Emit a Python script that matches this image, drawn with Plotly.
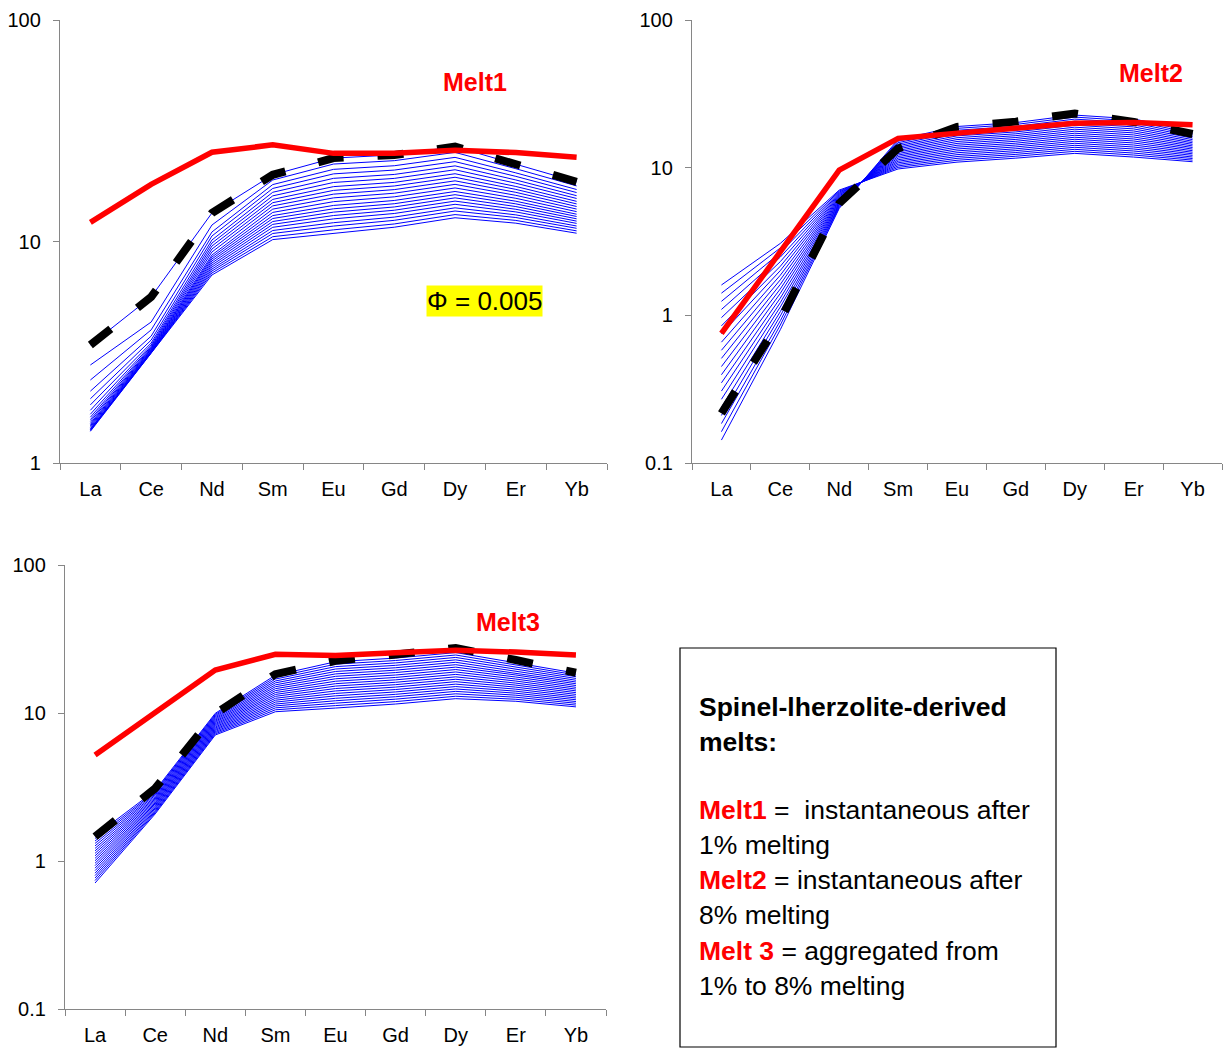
import plotly.graph_objects as go

W, H = 1223, 1048

elements = ["La", "Ce", "Nd", "Sm", "Eu", "Gd", "Dy", "Er", "Yb"]

# ---- Panel 1: model melt curves (Phi = 0.005), one value per curve for each element
p1_La = [3.41, 2.77, 2.37, 2.11, 1.95, 1.83, 1.73, 1.66, 1.61, 1.57, 1.54, 1.51, 1.49, 1.47, 1.45, 1.43, 1.42, 1.41, 1.40, 1.39]
p1_Ce = [5.62, 4.33, 3.99, 3.74, 3.59, 3.48, 3.41, 3.36, 3.32, 3.29, 3.26, 3.24, 3.21, 3.19, 3.18, 3.16, 3.15, 3.15, 3.14, 3.13]
p1_Nd = [13.45, 11.87, 11.04, 10.59, 10.16, 9.84, 9.54, 9.25, 8.97, 8.69, 8.51, 8.34, 8.17, 8.00, 7.83, 7.67, 7.51, 7.36, 7.21, 7.06]
p1_Sm = [20.0, 18.95, 18.07, 17.36, 16.68, 16.07, 15.49, 14.97, 14.48, 14.00, 13.53, 13.09, 12.70, 12.31, 11.95, 11.59, 11.21, 10.87, 10.51, 10.20]
p1_Eu = [23.8, 22.37, 21.17, 20.20, 19.28, 18.47, 17.69, 17.01, 16.36, 15.74, 15.13, 14.55, 14.05, 13.57, 13.10, 12.65, 12.16, 11.74, 11.29, 10.90]
p1_Gd = [24.6, 23.17, 21.98, 21.01, 20.08, 19.27, 18.49, 17.81, 17.15, 16.52, 15.91, 15.32, 14.81, 14.32, 13.84, 13.38, 12.89, 12.46, 12.00, 11.60]
p1_Dy = [26.8, 25.25, 23.98, 22.94, 21.95, 21.08, 20.23, 19.50, 18.79, 18.11, 17.45, 16.82, 16.27, 15.74, 15.22, 14.72, 14.19, 13.73, 13.23, 12.80]
p1_Er = [22.4, 21.31, 20.41, 19.68, 18.96, 18.33, 17.72, 17.19, 16.67, 16.16, 15.67, 15.20, 14.79, 14.38, 13.98, 13.60, 13.19, 12.83, 12.45, 12.10]
p1_Yb = [18.6, 17.82, 17.17, 16.63, 16.10, 15.64, 15.18, 14.78, 14.39, 14.01, 13.64, 13.28, 12.97, 12.66, 12.36, 12.07, 11.75, 11.47, 11.17, 10.90]
p1_ref = [3.41, 5.62, 13.45, 20.0, 23.8, 24.6, 26.8, 22.4, 18.6]
melt1 = [12.2, 18.1, 25.3, 27.3, 25.0, 25.0, 25.8, 25.2, 24.0]

# ---- Panel 2
p2_La = [1.605, 1.413, 1.244, 1.096, 0.965, 0.849, 0.748, 0.658, 0.580, 0.511, 0.450, 0.396, 0.349, 0.307, 0.270, 0.238, 0.210, 0.185, 0.163, 0.143]
p2_Ce = [3.07, 2.86, 2.66, 2.48, 2.31, 2.15, 2.01, 1.87, 1.74, 1.62, 1.51, 1.41, 1.31, 1.22, 1.14, 1.06, 0.99, 0.92, 0.86, 0.80]
p2_Nd = [7.05, 6.94, 6.84, 6.74, 6.64, 6.54, 6.44, 6.34, 6.25, 6.16, 6.06, 5.97, 5.89, 5.80, 5.71, 5.63, 5.54, 5.46, 5.38, 5.30]
p2_Sm = [9.80, 10.04, 10.28, 10.53, 10.79, 11.05, 11.32, 11.60, 11.89, 12.18, 12.47, 12.78, 13.09, 13.41, 13.74, 14.07, 14.42, 14.77, 15.13, 15.50]
p2_Eu = [10.90, 11.22, 11.56, 11.90, 12.25, 12.62, 12.99, 13.38, 13.77, 14.18, 14.60, 15.04, 15.49, 15.95, 16.42, 16.90, 17.41, 17.92, 18.46, 19.00]
p2_Gd = [11.60, 11.95, 12.30, 12.66, 13.04, 13.42, 13.82, 14.23, 14.65, 15.09, 15.54, 16.00, 16.47, 16.96, 17.46, 17.98, 18.51, 19.05, 19.62, 20.20]
p2_Dy = [12.50, 12.90, 13.31, 13.74, 14.17, 14.63, 15.09, 15.57, 16.07, 16.58, 17.11, 17.66, 18.22, 18.80, 19.40, 20.02, 20.66, 21.32, 22.00, 22.70]
p2_Er = [11.80, 12.18, 12.56, 12.97, 13.38, 13.80, 14.24, 14.70, 15.16, 15.64, 16.14, 16.66, 17.19, 17.73, 18.30, 18.88, 19.48, 20.10, 20.74, 21.40]
p2_Yb = [10.97, 11.25, 11.53, 11.81, 12.11, 12.41, 12.72, 13.03, 13.36, 13.69, 14.03, 14.38, 14.74, 15.10, 15.48, 15.86, 16.26, 16.66, 17.07, 17.50]
p2_ref = [0.217, 0.93, 5.73, 13.5, 18.9, 20.5, 23.3, 20.4, 16.9]
melt2 = [0.755, 2.69, 9.64, 15.8, 17.2, 18.5, 20.0, 20.2, 19.5]

# ---- Panel 3
p3_La = [1.476, 1.420, 1.366, 1.315, 1.265, 1.217, 1.171, 1.127, 1.084, 1.043, 1.004, 0.966, 0.930, 0.895, 0.861, 0.828, 0.797, 0.767, 0.738, 0.710]
p3_Ce = [3.00, 2.94, 2.89, 2.83, 2.78, 2.72, 2.67, 2.62, 2.57, 2.52, 2.47, 2.43, 2.38, 2.34, 2.29, 2.25, 2.20, 2.16, 2.12, 2.08]
p3_Nd = [9.95, 9.78, 9.61, 9.44, 9.27, 9.11, 8.95, 8.79, 8.64, 8.48, 8.33, 8.19, 8.04, 7.90, 7.76, 7.63, 7.49, 7.36, 7.23, 7.10]
p3_Sm = [18.00, 17.47, 16.96, 16.46, 15.98, 15.50, 15.05, 14.60, 14.17, 13.75, 13.35, 12.96, 12.57, 12.20, 11.84, 11.49, 11.16, 10.83, 10.51, 10.20]
p3_Eu = [22.20, 21.38, 20.58, 19.82, 19.08, 18.37, 17.69, 17.03, 16.39, 15.78, 15.20, 14.63, 14.09, 13.56, 13.06, 12.57, 12.10, 11.65, 11.22, 10.80]
p3_Gd = [23.50, 22.63, 21.80, 20.99, 20.22, 19.47, 18.76, 18.06, 17.39, 16.75, 16.13, 15.54, 14.97, 14.41, 13.88, 13.37, 12.88, 12.40, 11.94, 11.50]
p3_Dy = [25.60, 24.65, 23.74, 22.86, 22.01, 21.20, 20.41, 19.66, 18.93, 18.23, 17.55, 16.90, 16.28, 15.67, 15.09, 14.53, 14.00, 13.48, 12.98, 12.50]
p3_Er = [21.80, 21.13, 20.47, 19.84, 19.23, 18.64, 18.06, 17.50, 16.96, 16.44, 15.92, 15.43, 14.95, 14.49, 14.04, 13.61, 13.19, 12.78, 12.38, 12.00]
p3_Yb = [18.60, 18.09, 17.60, 17.12, 16.65, 16.20, 15.76, 15.33, 14.91, 14.50, 14.11, 13.72, 13.35, 12.98, 12.63, 12.29, 11.95, 11.63, 11.31, 11.00]
p3_ref = [1.46, 3.10, 9.9, 18.3, 22.5, 25.0, 27.5, 22.8, 18.7]
melt3 = [5.2, 10.0, 19.5, 24.9, 24.5, 25.5, 26.5, 25.8, 24.7]

FONT = "Arial, 'Liberation Sans', sans-serif"
AXIS_GREY = "#868686"


def px(x):
    return x / W


def py(y):
    return 1 - y / H


panels = [
    ("x", "y", [p1_La, p1_Ce, p1_Nd, p1_Sm, p1_Eu, p1_Gd, p1_Dy, p1_Er, p1_Yb], p1_ref, melt1),
    ("x2", "y2", [p2_La, p2_Ce, p2_Nd, p2_Sm, p2_Eu, p2_Gd, p2_Dy, p2_Er, p2_Yb], p2_ref, melt2),
    ("x3", "y3", [p3_La, p3_Ce, p3_Nd, p3_Sm, p3_Eu, p3_Gd, p3_Dy, p3_Er, p3_Yb], p3_ref, melt3),
]

fig = go.Figure()
for xa, ya, columns, ref, melt in panels:
    # blue model curves: transpose element columns into one curve per model step
    for curve in zip(*columns):
        fig.add_trace(go.Scatter(x=elements, y=list(curve), xaxis=xa, yaxis=ya, mode="lines",
                                 line=dict(color="#0000FF", width=1), hoverinfo="skip"))
    fig.add_trace(go.Scatter(x=elements, y=ref, xaxis=xa, yaxis=ya, mode="lines",
                             line=dict(color="#000000", width=8, dash="26px,34px")))
    fig.add_trace(go.Scatter(x=elements, y=melt, xaxis=xa, yaxis=ya, mode="lines",
                             line=dict(color="#FF0000", width=5.5)))


def xaxis_style(domain, anchor):
    return dict(domain=domain, anchor=anchor, type="category", categoryarray=elements,
                range=[-0.5, 8.5], tickson="boundaries", ticks="outside", ticklen=6,
                tickcolor=AXIS_GREY, tickwidth=1.3, showline=True, linecolor=AXIS_GREY,
                linewidth=1.3, showgrid=False, zeroline=False, ticklabelstandoff=8,
                automargin=False, tickfont=dict(family=FONT, size=20, color="#000000"))


def yaxis_style(domain, anchor, lo, vals):
    return dict(domain=domain, anchor=anchor, type="log", range=[lo, 2],
                tickvals=vals, ticktext=[str(v) for v in vals], ticks="outside",
                ticklen=6, tickcolor=AXIS_GREY, tickwidth=1.3, showline=True,
                linecolor=AXIS_GREY, linewidth=1.3, showgrid=False, zeroline=False,
                ticklabelstandoff=8, automargin=False,
                tickfont=dict(family=FONT, size=20, color="#000000"))


fig.update_layout(
    width=W, height=H, margin=dict(l=0, r=0, t=0, b=0, pad=0, autoexpand=False),
    paper_bgcolor="white", plot_bgcolor="white", showlegend=False,
    font=dict(family=FONT, color="#000000"),
    xaxis=xaxis_style([px(60), px(607)], "y"),
    yaxis=yaxis_style([py(463), py(20)], "x", 0, [1, 10, 100]),
    xaxis2=xaxis_style([px(692), px(1222)], "y2"),
    yaxis2=yaxis_style([py(463), py(20)], "x2", -1, [0.1, 1, 10, 100]),
    xaxis3=xaxis_style([px(65), px(606)], "y3"),
    yaxis3=yaxis_style([py(1009), py(565)], "x3", -1, [0.1, 1, 10, 100]),
)

annotations = [
    dict(x=px(475), y=py(82), text="<b>Melt1</b>", font=dict(size=25, color="#FF0000")),
    dict(x=px(1151), y=py(73), text="<b>Melt2</b>", font=dict(size=25, color="#FF0000")),
    dict(x=px(508), y=py(622), text="<b>Melt3</b>", font=dict(size=25, color="#FF0000")),
    dict(x=px(484), y=py(301), text="Φ = 0.005", font=dict(size=26, color="#000000"),
         bgcolor="#FFFF00", borderpad=0),
]
for a in annotations:
    a.update(xref="paper", yref="paper", showarrow=False, xanchor="center", yanchor="middle")
    a["font"]["family"] = FONT

RED = "<span style='color:#FF0000'><b>%s</b></span>"
legend_lines = [
    (707, "<b>Spinel-lherzolite-derived</b>"),
    (742, "<b>melts:</b>"),
    (810, RED % "Melt1" + " = &nbsp;instantaneous after"),
    (845, "1% melting"),
    (880, RED % "Melt2" + " = instantaneous after"),
    (915, "8% melting"),
    (951, RED % "Melt 3" + " = aggregated from"),
    (986, "1% to 8% melting"),
]
for yy, txt in legend_lines:
    annotations.append(dict(x=px(697), y=py(yy), xref="paper", yref="paper", text=txt,
                            showarrow=False, xanchor="left", yanchor="middle",
                            font=dict(family=FONT, size=26.5, color="#000000")))

fig.update_layout(annotations=annotations)

fig.add_shape(type="rect", xref="paper", yref="paper", x0=px(680), x1=px(1056),
              y0=py(1047), y1=py(648), line=dict(color="#000000", width=1.2),
              fillcolor="rgba(0,0,0,0)")

fig.write_html("out.html")
